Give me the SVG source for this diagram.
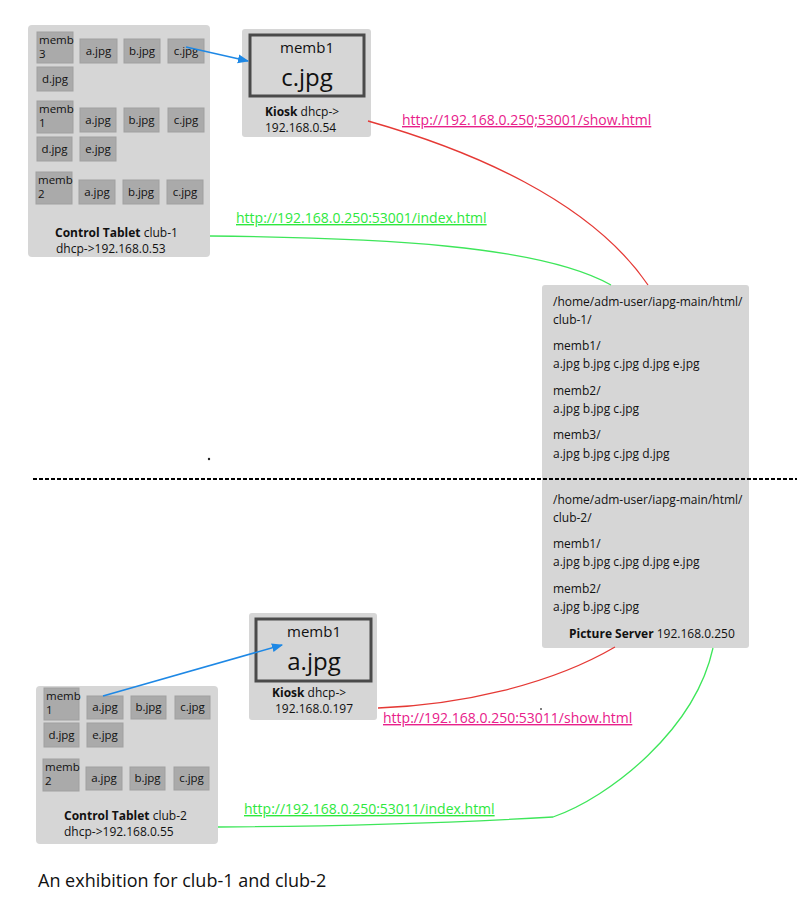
<svg xmlns="http://www.w3.org/2000/svg" width="800" height="906" viewBox="0 0 800 906">
  <style>
    text { font-family: "Open Sans", "Noto Sans", "Liberation Sans", sans-serif; fill: #111; }
    .box { fill: #d6d6d6; }
    .tile { fill: #aaaaaa; stroke: #a0a0a0; stroke-width: 1; }
    .tt { font-size: 11.5px; }
    .ttc { font-size: 11.5px; text-anchor: middle; }
    .lbl { font-size: 12px; }
    .b { font-weight: bold; }
    .srv { font-size: 12px; }
    .frame { fill: none; stroke: #4a4a4a; stroke-width: 3; }
    .big1 { font-size: 15px; text-anchor: middle; }
    .big2 { font-size: 24px; text-anchor: middle; }
    .link { font-size: 14px; text-decoration: underline; }
    .red { fill: none; stroke: #e53935; stroke-width: 1.3; }
    .grn { fill: none; stroke: #3ee65a; stroke-width: 1.3; }
    .blu { fill: none; stroke: #1e88e5; stroke-width: 1.6; }
  </style>
  <defs>
    <marker id="arr" viewBox="0 0 10 10" refX="9" refY="5" markerWidth="7" markerHeight="7" orient="auto">
      <path d="M0,1 L10,5 L0,9 Z" fill="#1e88e5"/>
    </marker>
  </defs>

  <rect width="800" height="906" fill="#ffffff"/>

  <!-- club-1 control tablet -->
  <g id="tablet-club1">
    <rect class="box" x="28" y="25" width="182" height="232" rx="4"/>
    <rect class="tile" x="37" y="32" width="36" height="31"/>
    <text class="tt" x="39" y="44">memb</text><text class="tt" x="39" y="58">3</text>
    <rect class="tile" x="80" y="39" width="37" height="24"/><text class="ttc" x="98.5" y="55">a.jpg</text>
    <rect class="tile" x="124" y="39" width="36" height="24"/><text class="ttc" x="142" y="55">b.jpg</text>
    <rect class="tile" x="168" y="39" width="36" height="24"/><text class="ttc" x="186" y="55">c.jpg</text>
    <rect class="tile" x="37" y="67" width="36" height="24"/><text class="ttc" x="55" y="83">d.jpg</text>

    <rect class="tile" x="37" y="101" width="36" height="32"/>
    <text class="tt" x="39" y="113">memb</text><text class="tt" x="39" y="127">1</text>
    <rect class="tile" x="80" y="108" width="36" height="24"/><text class="ttc" x="98" y="124">a.jpg</text>
    <rect class="tile" x="124" y="108" width="35" height="24"/><text class="ttc" x="141.5" y="124">b.jpg</text>
    <rect class="tile" x="168" y="108" width="36" height="24"/><text class="ttc" x="186" y="124">c.jpg</text>
    <rect class="tile" x="37" y="137" width="35" height="24"/><text class="ttc" x="54.5" y="153">d.jpg</text>
    <rect class="tile" x="80" y="137" width="36" height="24"/><text class="ttc" x="98" y="153">e.jpg</text>

    <rect class="tile" x="36" y="172" width="36" height="32"/>
    <text class="tt" x="38" y="184">memb</text><text class="tt" x="38" y="198">2</text>
    <rect class="tile" x="79" y="180" width="36" height="24"/><text class="ttc" x="97" y="196">a.jpg</text>
    <rect class="tile" x="123" y="180" width="36" height="24"/><text class="ttc" x="141" y="196">b.jpg</text>
    <rect class="tile" x="167" y="180" width="36" height="24"/><text class="ttc" x="185" y="196">c.jpg</text>

    <text class="lbl" x="55" y="237"><tspan class="b">Control Tablet</tspan> club-1</text>
    <text class="lbl" x="56" y="253">dhcp-&gt;192.168.0.53</text>
  </g>

  <!-- club-1 kiosk -->
  <g id="kiosk-club1">
    <rect class="box" x="242" y="29" width="129" height="108" rx="3"/>
    <rect class="frame" x="250" y="35" width="114" height="61"/>
    <text class="big1" x="307" y="53">memb1</text>
    <text class="big2" x="307" y="86">c.jpg</text>
    <text class="lbl" x="265" y="116"><tspan class="b">Kiosk</tspan> dhcp-&gt;</text>
    <text class="lbl" x="265" y="132">192.168.0.54</text>
  </g>

  <!-- picture server -->
  <g id="picture-server">
    <rect class="box" x="542" y="285" width="207" height="363" rx="3"/>
    <text class="srv" x="553" y="306">/home/adm-user/iapg-main/html/</text>
    <text class="srv" x="553" y="324">club-1/</text>
    <text class="srv" x="553" y="350">memb1/</text>
    <text class="srv" x="553" y="368">a.jpg b.jpg c.jpg d.jpg e.jpg</text>
    <text class="srv" x="553" y="395">memb2/</text>
    <text class="srv" x="553" y="413">a.jpg b.jpg c.jpg</text>
    <text class="srv" x="553" y="439">memb3/</text>
    <text class="srv" x="553" y="458">a.jpg b.jpg c.jpg d.jpg</text>
    <text class="srv" x="553" y="504">/home/adm-user/iapg-main/html/</text>
    <text class="srv" x="553" y="522">club-2/</text>
    <text class="srv" x="553" y="548">memb1/</text>
    <text class="srv" x="553" y="566">a.jpg b.jpg c.jpg d.jpg e.jpg</text>
    <text class="srv" x="553" y="593">memb2/</text>
    <text class="srv" x="553" y="611">a.jpg b.jpg c.jpg</text>
    <text class="srv" x="569" y="638"><tspan class="b">Picture Server</tspan> 192.168.0.250</text>
  </g>

  <!-- club-2 kiosk -->
  <g id="kiosk-club2">
    <rect class="box" x="249" y="613" width="128" height="107" rx="3"/>
    <rect class="frame" x="256" y="619" width="115" height="62"/>
    <text class="big1" x="314" y="637">memb1</text>
    <text class="big2" x="314" y="670">a.jpg</text>
    <text class="lbl" x="272" y="697"><tspan class="b">Kiosk</tspan> dhcp-&gt;</text>
    <text class="lbl" x="275" y="713">192.168.0.197</text>
  </g>

  <!-- club-2 control tablet -->
  <g id="tablet-club2">
    <rect class="box" x="36" y="686" width="182" height="158" rx="4"/>
    <rect class="tile" x="44" y="688" width="35" height="32"/>
    <text class="tt" x="46" y="700">memb</text><text class="tt" x="46" y="714">1</text>
    <rect class="tile" x="87" y="696" width="36" height="23"/><text class="ttc" x="105" y="711">a.jpg</text>
    <rect class="tile" x="131" y="696" width="35" height="23"/><text class="ttc" x="148.5" y="711">b.jpg</text>
    <rect class="tile" x="175" y="696" width="35" height="23"/><text class="ttc" x="192.5" y="711">c.jpg</text>
    <rect class="tile" x="44" y="723" width="35" height="24"/><text class="ttc" x="61.5" y="739">d.jpg</text>
    <rect class="tile" x="87" y="723" width="36" height="24"/><text class="ttc" x="105" y="739">e.jpg</text>

    <rect class="tile" x="43" y="759" width="36" height="32"/>
    <text class="tt" x="45" y="771">memb</text><text class="tt" x="45" y="785">2</text>
    <rect class="tile" x="86" y="767" width="36" height="23"/><text class="ttc" x="104" y="782">a.jpg</text>
    <rect class="tile" x="130" y="767" width="35" height="23"/><text class="ttc" x="147.5" y="782">b.jpg</text>
    <rect class="tile" x="174" y="767" width="35" height="23"/><text class="ttc" x="191.5" y="782">c.jpg</text>

    <text class="lbl" x="64" y="820"><tspan class="b">Control Tablet</tspan> club-2</text>
    <text class="lbl" x="64" y="836">dhcp-&gt;192.168.0.55</text>
  </g>

  <!-- connectors -->
  <g id="connectors">
    <path class="blu" d="M186,47 L248,61" marker-end="url(#arr)"/>
    <path class="blu" d="M103,696 L282,645" marker-end="url(#arr)"/>
    <path class="red" d="M368,121 C470,150 590,200 648,285"/>
    <path class="grn" d="M210,236 C380,238 540,245 611,285"/>
    <path class="red" d="M378,708 C460,705 550,685 615,647"/>
    <path class="grn" d="M218,827 Q400,826 553,817 C610,797 695,730 713,648"/>
  </g>

  <!-- link labels -->
  <g id="links">
    <text class="link" x="402" y="125" style="fill:#e8208a">http://192.168.0.250;53001/show.html</text>
    <text class="link" x="236" y="223" style="fill:#2ee83e">http://192.168.0.250:53001/index.html</text>
    <text class="link" x="383" y="723" style="fill:#e8208a">http://192.168.0.250:53011/show.html</text>
    <text class="link" x="244" y="814" style="fill:#2ee83e">http://192.168.0.250:53011/index.html</text>
  </g>

  <!-- club divider -->
  <line x1="33" y1="479" x2="797" y2="479" stroke="#000" stroke-width="2" stroke-dasharray="4,2"/>
  <circle cx="209" cy="459" r="1.2" fill="#222"/>
  <circle cx="541" cy="709" r="1" fill="#555"/>

  <text x="38" y="887" style="font-size:18px">An exhibition for club-1 and club-2</text>
</svg>
